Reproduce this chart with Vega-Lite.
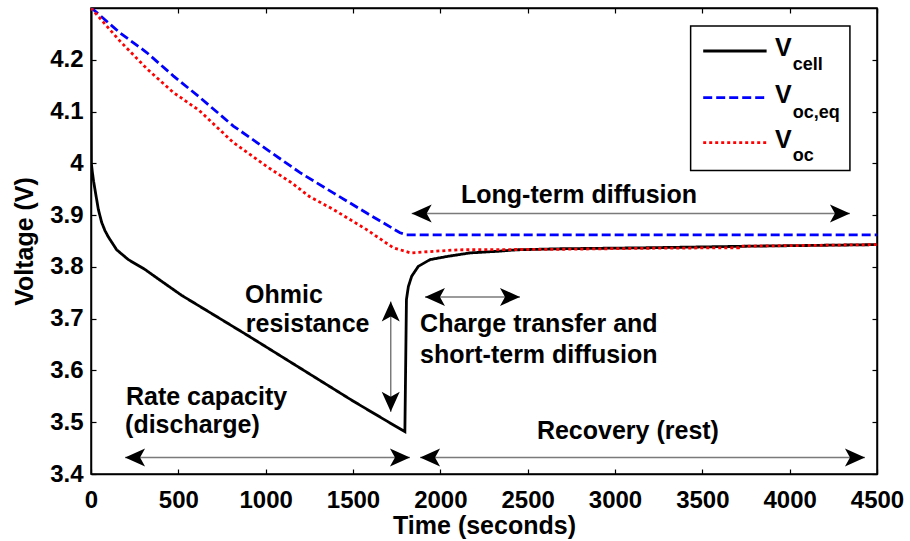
{
  "$schema": "https://vega.github.io/schema/vega-lite/v6.json",
  "width": 786,
  "height": 466,
  "autosize": {"type": "none"},
  "padding": {"left": 91, "top": 8, "right": 33, "bottom": 67},
  "background": "white",
  "config": {
    "view": {"stroke": "black", "strokeWidth": 1.5},
    "font": "Liberation Sans",
    "axis": {
      "domainColor": "black", "domainWidth": 1.5,
      "tickColor": "black", "tickWidth": 1.2, "tickSize": -5,
      "grid": false, "labelFlush": false,
      "labelFont": "Liberation Sans", "labelFontWeight": "bold", "labelFontSize": 24, "labelColor": "black",
      "titleFont": "Liberation Sans", "titleFontWeight": "bold", "titleFontSize": 25, "titleColor": "black"
    }
  },
  "datasets": {
    "curves": [
      {"series": "Vcell", "t": 0, "v": 4.30},
      {"series": "Vcell", "t": 1, "v": 4.10},
      {"series": "Vcell", "t": 2, "v": 4.00},
      {"series": "Vcell", "t": 7, "v": 3.985},
      {"series": "Vcell", "t": 15, "v": 3.965},
      {"series": "Vcell", "t": 23, "v": 3.949},
      {"series": "Vcell", "t": 42, "v": 3.911},
      {"series": "Vcell", "t": 61, "v": 3.886},
      {"series": "Vcell", "t": 80, "v": 3.870},
      {"series": "Vcell", "t": 99, "v": 3.858},
      {"series": "Vcell", "t": 147, "v": 3.833},
      {"series": "Vcell", "t": 214, "v": 3.814},
      {"series": "Vcell", "t": 309, "v": 3.795},
      {"series": "Vcell", "t": 405, "v": 3.772},
      {"series": "Vcell", "t": 519, "v": 3.745},
      {"series": "Vcell", "t": 700, "v": 3.708},
      {"series": "Vcell", "t": 900, "v": 3.667},
      {"series": "Vcell", "t": 1100, "v": 3.625},
      {"series": "Vcell", "t": 1300, "v": 3.583},
      {"series": "Vcell", "t": 1500, "v": 3.541},
      {"series": "Vcell", "t": 1700, "v": 3.501},
      {"series": "Vcell", "t": 1797, "v": 3.482},
      {"series": "Vcell", "t": 1806, "v": 3.737},
      {"series": "Vcell", "t": 1817, "v": 3.762},
      {"series": "Vcell", "t": 1836, "v": 3.782},
      {"series": "Vcell", "t": 1874, "v": 3.801},
      {"series": "Vcell", "t": 1941, "v": 3.814},
      {"series": "Vcell", "t": 2036, "v": 3.820},
      {"series": "Vcell", "t": 2170, "v": 3.827},
      {"series": "Vcell", "t": 2323, "v": 3.830},
      {"series": "Vcell", "t": 2437, "v": 3.833},
      {"series": "Vcell", "t": 2685, "v": 3.835},
      {"series": "Vcell", "t": 3200, "v": 3.837},
      {"series": "Vcell", "t": 3773, "v": 3.840},
      {"series": "Vcell", "t": 4500, "v": 3.843},
      {"series": "Voc,eq", "t": 0, "v": 4.300},
      {"series": "Voc,eq", "t": 13, "v": 4.297},
      {"series": "Voc,eq", "t": 166, "v": 4.252},
      {"series": "Voc,eq", "t": 319, "v": 4.214},
      {"series": "Voc,eq", "t": 471, "v": 4.169},
      {"series": "Voc,eq", "t": 624, "v": 4.127},
      {"series": "Voc,eq", "t": 815, "v": 4.072},
      {"series": "Voc,eq", "t": 1006, "v": 4.027},
      {"series": "Voc,eq", "t": 1197, "v": 3.982},
      {"series": "Voc,eq", "t": 1387, "v": 3.943},
      {"series": "Voc,eq", "t": 1578, "v": 3.904},
      {"series": "Voc,eq", "t": 1769, "v": 3.866},
      {"series": "Voc,eq", "t": 1807, "v": 3.862},
      {"series": "Voc,eq", "t": 4500, "v": 3.862},
      {"series": "Voc", "t": 0, "v": 4.300},
      {"series": "Voc", "t": 166, "v": 4.236},
      {"series": "Voc", "t": 319, "v": 4.183},
      {"series": "Voc", "t": 471, "v": 4.137},
      {"series": "Voc", "t": 620, "v": 4.102},
      {"series": "Voc", "t": 815, "v": 4.040},
      {"series": "Voc", "t": 1006, "v": 3.994},
      {"series": "Voc", "t": 1150, "v": 3.962},
      {"series": "Voc", "t": 1250, "v": 3.936},
      {"series": "Voc", "t": 1387, "v": 3.911},
      {"series": "Voc", "t": 1578, "v": 3.872},
      {"series": "Voc", "t": 1730, "v": 3.837},
      {"series": "Voc", "t": 1830, "v": 3.827},
      {"series": "Voc", "t": 1960, "v": 3.830},
      {"series": "Voc", "t": 2100, "v": 3.833},
      {"series": "Voc", "t": 2690, "v": 3.834},
      {"series": "Voc", "t": 3200, "v": 3.836},
      {"series": "Voc", "t": 3710, "v": 3.837},
      {"series": "Voc", "t": 3720, "v": 3.840},
      {"series": "Voc", "t": 4500, "v": 3.843}
    ],
    "legendbox": [
      {"t": 3433, "t2": 4345, "v": 3.986, "v2": 4.265}
    ],
    "legendlines": [
      {"series": "Vcell", "t": 3505, "t2": 3868, "v": 4.217},
      {"series": "Voc,eq", "t": 3505, "t2": 3868, "v": 4.127},
      {"series": "Voc", "t": 3505, "t2": 3868, "v": 4.040}
    ],
    "legendmain": [
      {"label": "V", "t": 3916, "v": 4.207},
      {"label": "V", "t": 3916, "v": 4.117},
      {"label": "V", "t": 3916, "v": 4.030}
    ],
    "legendsub": [
      {"label": "cell", "t": 4018, "v": 4.181},
      {"label": "oc,eq", "t": 4018, "v": 4.088},
      {"label": "oc", "t": 4018, "v": 4.004}
    ],
    "shafts": [
      {"name": "long-term", "t": 1836, "t2": 4345, "v": 3.903, "v2": 3.903},
      {"name": "charge", "t": 1912, "t2": 2456, "v": 3.742, "v2": 3.742},
      {"name": "ohmic", "t": 1716, "t2": 1716, "v": 3.520, "v2": 3.733},
      {"name": "rate", "t": 195, "t2": 1826, "v": 3.432, "v2": 3.432},
      {"name": "recovery", "t": 1884, "t2": 4431, "v": 3.432, "v2": 3.432}
    ],
    "heads": [
      {"t": 1836, "v": 3.903, "dir": "left"},
      {"t": 4345, "v": 3.903, "dir": "right"},
      {"t": 1912, "v": 3.742, "dir": "left"},
      {"t": 2456, "v": 3.742, "dir": "right"},
      {"t": 1716, "v": 3.733, "dir": "up"},
      {"t": 1716, "v": 3.520, "dir": "down"},
      {"t": 195, "v": 3.432, "dir": "left"},
      {"t": 1826, "v": 3.432, "dir": "right"},
      {"t": 1884, "v": 3.432, "dir": "left"},
      {"t": 4431, "v": 3.432, "dir": "right"}
    ],
    "notes_center": [
      {"text": "Long-term diffusion", "t": 2794, "v": 3.924},
      {"text": "Ohmic", "t": 1105, "v": 3.730},
      {"text": "resistance", "t": 1240, "v": 3.675},
      {"text": "Recovery (rest)", "t": 3074, "v": 3.468}
    ],
    "notes_left": [
      {"text": "Charge transfer and", "t": 1884, "v": 3.675},
      {"text": "short-term diffusion", "t": 1884, "v": 3.614},
      {"text": "Rate capacity", "t": 200, "v": 3.533},
      {"text": "(discharge)", "t": 195, "v": 3.479}
    ]
  },
  "layer": [
    {
      "data": {"name": "curves"},
      "mark": {"type": "line", "strokeWidth": 2.8, "clip": true},
      "encoding": {
        "x": {
          "field": "t", "type": "quantitative",
          "scale": {"domain": [0, 4500], "nice": false, "zero": false},
          "axis": {"orient": "bottom", "values": [0, 500, 1000, 1500, 2000, 2500, 3000, 3500, 4000, 4500], "format": "d", "title": "Time (seconds)", "labelPadding": 19, "titlePadding": 1}
        },
        "y": {
          "field": "v", "type": "quantitative",
          "scale": {"domain": [3.4, 4.3], "nice": false, "zero": false},
          "axis": {"orient": "left", "values": [3.4, 3.5, 3.6, 3.7, 3.8, 3.9, 4.0, 4.1, 4.2], "labelExpr": "format(datum.value, '.2~f')", "title": "Voltage (V)", "labelPadding": 13, "titlePadding": 12}
        },
        "color": {"field": "series", "type": "nominal", "scale": {"domain": ["Vcell", "Voc,eq", "Voc"], "range": ["#000000", "#0000ff", "#ff0000"]}, "legend": null},
        "strokeDash": {"field": "series", "type": "nominal", "scale": {"domain": ["Vcell", "Voc,eq", "Voc"], "range": [[1, 0], [9, 4], [3, 3]]}, "legend": null},
        "order": {"field": "t", "type": "quantitative"}
      }
    },
    {
      "data": {"name": "legendbox"},
      "mark": {"type": "rect", "fill": "white", "stroke": "black", "strokeWidth": 1.5},
      "encoding": {
        "x": {"field": "t", "type": "quantitative", "axis": {"orient": "top", "values": [0, 500, 1000, 1500, 2000, 2500, 3000, 3500, 4000, 4500], "labels": false, "title": null}},
        "x2": {"field": "t2"},
        "y": {"field": "v", "type": "quantitative", "axis": {"orient": "right", "values": [3.4, 3.5, 3.6, 3.7, 3.8, 3.9, 4.0, 4.1, 4.2], "labels": false, "title": null}},
        "y2": {"field": "v2"}
      }
    },
    {
      "data": {"name": "legendlines"},
      "mark": {"type": "rule", "strokeWidth": 2.8},
      "encoding": {
        "x": {"field": "t", "type": "quantitative", "axis": null},
        "x2": {"field": "t2"},
        "y": {"field": "v", "type": "quantitative", "axis": null},
        "color": {"field": "series", "type": "nominal", "legend": null},
        "strokeDash": {"field": "series", "type": "nominal", "legend": null}
      }
    },
    {
      "data": {"name": "legendmain"},
      "mark": {"type": "text", "align": "left", "baseline": "alphabetic", "fontSize": 25, "fontWeight": "bold", "font": "Liberation Sans", "color": "black"},
      "encoding": {
        "x": {"field": "t", "type": "quantitative", "axis": null},
        "y": {"field": "v", "type": "quantitative", "axis": null},
        "text": {"field": "label"}
      }
    },
    {
      "data": {"name": "legendsub"},
      "mark": {"type": "text", "align": "left", "baseline": "alphabetic", "fontSize": 18, "fontWeight": "bold", "font": "Liberation Sans", "color": "black"},
      "encoding": {
        "x": {"field": "t", "type": "quantitative", "axis": null},
        "y": {"field": "v", "type": "quantitative", "axis": null},
        "text": {"field": "label"}
      }
    },
    {
      "data": {"name": "shafts"},
      "mark": {"type": "rule", "color": "#7a7a7a", "strokeWidth": 1.5},
      "encoding": {
        "x": {"field": "t", "type": "quantitative", "axis": null},
        "x2": {"field": "t2"},
        "y": {"field": "v", "type": "quantitative", "axis": null},
        "y2": {"field": "v2"}
      }
    },
    {
      "data": {"name": "heads"},
      "mark": {"type": "point", "filled": true, "color": "black", "opacity": 1, "size": 400},
      "encoding": {
        "x": {"field": "t", "type": "quantitative", "axis": null},
        "y": {"field": "v", "type": "quantitative", "axis": null},
        "shape": {"field": "dir", "type": "nominal", "legend": null, "scale": {"domain": ["left", "right", "up", "down"], "range": ["M0,0L2,-0.9L1.5,0L2,0.9Z", "M0,0L-2,-0.9L-1.5,0L-2,0.9Z", "M0,0L-0.9,2L0,1.5L0.9,2Z", "M0,0L-0.9,-2L0,-1.5L0.9,-2Z"]}}
      }
    },
    {
      "data": {"name": "notes_center"},
      "mark": {"type": "text", "align": "center", "baseline": "alphabetic", "fontSize": 25, "fontWeight": "bold", "font": "Liberation Sans", "color": "black"},
      "encoding": {
        "x": {"field": "t", "type": "quantitative", "axis": null},
        "y": {"field": "v", "type": "quantitative", "axis": null},
        "text": {"field": "text"}
      }
    },
    {
      "data": {"name": "notes_left"},
      "mark": {"type": "text", "align": "left", "baseline": "alphabetic", "fontSize": 25, "fontWeight": "bold", "font": "Liberation Sans", "color": "black"},
      "encoding": {
        "x": {"field": "t", "type": "quantitative", "axis": null},
        "y": {"field": "v", "type": "quantitative", "axis": null},
        "text": {"field": "text"}
      }
    }
  ],
  "resolve": {"axis": {"x": "independent", "y": "independent"}}
}
